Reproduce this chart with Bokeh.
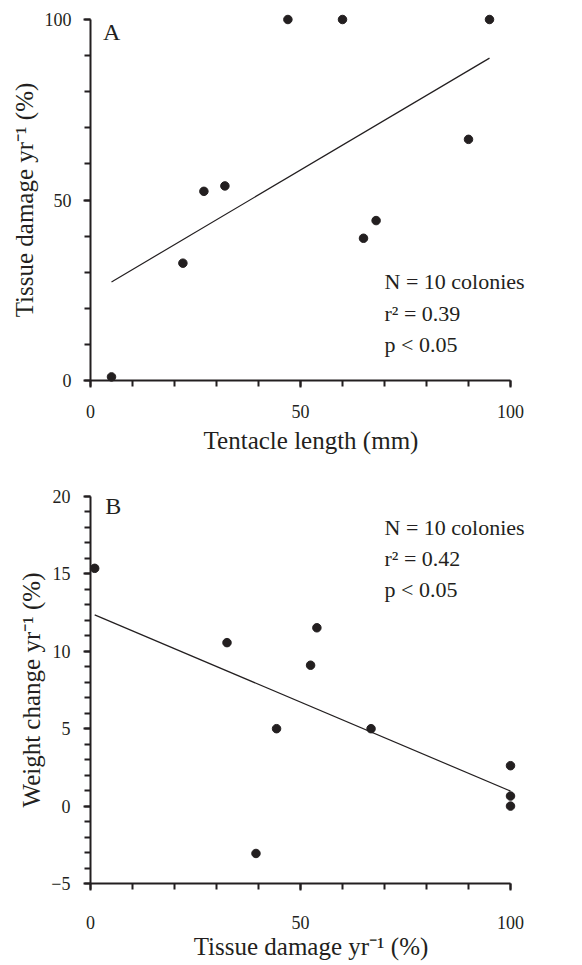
from bokeh.plotting import figure
from bokeh.layouts import column
from bokeh.models import FixedTicker, Label, Range1d
from bokeh.embed import file_html
from bokeh.resources import INLINE

# ---------------- data: panel A ----------------
tentacle_length = [5, 22, 27, 32, 47, 60, 65, 68, 90, 95]
tissue_damage_a = [1, 32.5, 52.4, 53.9, 100, 100, 39.4, 44.3, 66.8, 100]
fit_a_x = [5, 95]
fit_a_y = [27.3, 89.3]
a_x_ticks = [0, 50, 100]
a_x_minor = [0, 10, 20, 30, 40, 50, 60, 70, 80, 90, 100]
a_y_ticks = [0, 50, 100]
a_y_minor = [0, 10, 20, 30, 40, 50, 60, 70, 80, 90, 100]
a_stats = ["N = 10 colonies", "r\u00b2 = 0.39", "p < 0.05"]
a_stats_y = [25.0, 16.2, 7.4]

# ---------------- data: panel B ----------------
tissue_damage_b = [1, 32.5, 52.4, 53.9, 39.4, 44.3, 66.8, 100, 100, 100]
weight_change = [15.36, 10.56, 9.10, 11.52, -3.06, 5.0, 5.0, 2.61, 0.65, 0.0]
fit_b_x = [1, 100]
fit_b_y = [12.35, 0.97]
b_x_ticks = [0, 50, 100]
b_x_minor = [0, 10, 20, 30, 40, 50, 60, 70, 80, 90, 100]
b_y_ticks = [-5, 0, 5, 10, 15, 20]
b_y_minor = list(range(-5, 21))
b_stats = ["N = 10 colonies", "r\u00b2 = 0.42", "p < 0.05"]
b_stats_y = [17.4, 15.4, 13.4]

DARK = "#231f20"
FONT = "Liberation Serif"


def style_axis(ax, ticks, minor, label_standoff, title_standoff, bounds):
    ax.ticker = FixedTicker(ticks=ticks, minor_ticks=minor)
    ax.bounds = bounds
    ax.axis_line_width = 2
    ax.axis_line_color = DARK
    ax.major_tick_line_width = 2
    ax.major_tick_line_color = DARK
    ax.minor_tick_line_width = 2
    ax.minor_tick_line_color = DARK
    ax.major_tick_out = 7
    ax.major_tick_in = 0
    ax.minor_tick_out = 6
    ax.minor_tick_in = 0
    ax.major_label_text_font = FONT
    ax.major_label_text_font_size = "18px"
    ax.major_label_text_color = DARK
    ax.major_label_standoff = label_standoff
    ax.axis_label_text_font = FONT
    ax.axis_label_text_font_size = "25px"
    ax.axis_label_text_font_style = "normal"
    ax.axis_label_text_color = DARK
    ax.axis_label_standoff = title_standoff


def base_fig(height, x_range, y_range, top, bottom):
    # the frame runs slightly past x = 100 so that the statistics text is not cut;
    # the axes themselves are bounded to the data extent
    p = figure(width=541, height=height, x_range=x_range, y_range=y_range,
               output_backend="svg", toolbar_location=None,
               min_border_left=90, min_border_right=10,
               min_border_top=top, min_border_bottom=bottom)
    p.outline_line_color = None
    p.xgrid.visible = False
    p.ygrid.visible = False
    p.background_fill_color = "white"
    p.border_fill_color = "white"
    return p


def add_text(p, x, y, txt, size):
    p.add_layout(Label(x=x, y=y, y_offset=9, text=txt, text_font=FONT,
                       text_font_size=size, text_color=DARK,
                       text_baseline="alphabetic", level="overlay"))


# ---------------- panel A ----------------
pa = base_fig(464, Range1d(0, 105), Range1d(0, 100), 19, 84)
pa.xaxis.axis_label = "Tentacle length (mm)"
pa.yaxis.axis_label = "Tissue damage yr\u207b\u00b9 (%)"
style_axis(pa.xaxis[0], a_x_ticks, a_x_minor, 17, 6, (0, 100))
style_axis(pa.yaxis[0], a_y_ticks, a_y_minor, 12, 4, (0, 100))
pa.line(fit_a_x, fit_a_y, line_width=1.2, line_color=DARK)
pa.scatter(tentacle_length, tissue_damage_a, size=8.5, color=DARK, level="overlay")
add_text(pa, 3, 94, "A", "24px")
for txt, yy in zip(a_stats, a_stats_y):
    add_text(pa, 70, yy, txt, "22px")

# ---------------- panel B ----------------
pb = base_fig(500, Range1d(0, 105), Range1d(-5, 20), 32, 81)
pb.xaxis.axis_label = "Tissue damage yr\u207b\u00b9 (%)"
pb.yaxis.axis_label = "Weight change yr\u207b\u00b9 (%)"
style_axis(pb.xaxis[0], b_x_ticks, b_x_minor, 25, 1, (0, 100))
style_axis(pb.yaxis[0], b_y_ticks, b_y_minor, 13, 3, (-5, 20))
pb.line(fit_b_x, fit_b_y, line_width=1.2, line_color=DARK)
pb.scatter(tissue_damage_b, weight_change, size=8.5, color=DARK, level="overlay")
add_text(pb, 3.5, 18.8, "B", "24px")
for txt, yy in zip(b_stats, b_stats_y):
    add_text(pb, 70, yy, txt, "22px")

layout = column(pa, pb, spacing=0)
open("out.html", "w").write(file_html(layout, INLINE))
